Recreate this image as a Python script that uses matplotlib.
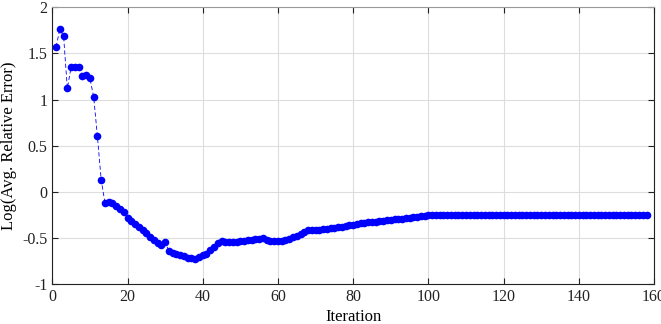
import numpy as np
import matplotlib.pyplot as plt

plt.rcParams['font.family'] = ['Liberation Serif', 'DejaVu Serif']

# Log of avg. relative error per iteration
err_early = [1.57, 1.76, 1.69, 1.12, 1.35, 1.35, 1.35, 1.26, 1.27, 1.23,
             1.03, 0.60, 0.13, -0.12, -0.11, -0.12, -0.15, -0.19, -0.22, -0.28,
             -0.32, -0.35, -0.38, -0.42, -0.45, -0.49, -0.52, -0.56, -0.58, -0.55,
             -0.64, -0.66, -0.67, -0.69, -0.70, -0.72, -0.72, -0.73, -0.71, -0.69,
             -0.67, -0.63, -0.60, -0.56, -0.53, -0.54, -0.54, -0.54, -0.54, -0.53]
err_mid = [-0.53, -0.52, -0.52, -0.51, -0.51, -0.50, -0.52, -0.53, -0.53, -0.53,
           -0.53, -0.52, -0.51, -0.49, -0.48, -0.46, -0.44, -0.42, -0.41, -0.41,
           -0.41, -0.40, -0.40, -0.39, -0.39, -0.38, -0.38, -0.37, -0.36, -0.36,
           -0.35, -0.34, -0.34, -0.33, -0.33, -0.33, -0.32, -0.32, -0.31, -0.31,
           -0.30, -0.30, -0.29, -0.28, -0.28, -0.27, -0.27, -0.26, -0.26, -0.255]
err_late = [-0.253, -0.252, -0.252, -0.251, -0.251, -0.251, -0.250, -0.250, -0.250, -0.250,
            -0.250, -0.250, -0.250, -0.250, -0.250, -0.250, -0.250, -0.250, -0.250, -0.250,
            -0.250, -0.250, -0.250, -0.250, -0.250, -0.250, -0.250, -0.250, -0.250, -0.250,
            -0.250, -0.250, -0.250, -0.250, -0.250, -0.250, -0.250, -0.250, -0.250, -0.250,
            -0.250, -0.250, -0.250, -0.250, -0.250, -0.250, -0.250, -0.250, -0.250, -0.250,
            -0.250, -0.250, -0.250, -0.250, -0.250, -0.250, -0.250, -0.250]

err = np.array(err_early + err_mid + err_late)
iters = np.arange(1, len(err) + 1)

fig = plt.figure(figsize=(6.61, 3.24), dpi=100)
ax = fig.add_axes([0.0791, 0.1235, 0.9104, 0.854])

ax.plot(iters, err, '--', color='#0000FF', linewidth=0.6, dashes=(5, 3))
ax.plot(iters, err, 'o', color='#0000FF', markersize=5.5, markeredgewidth=0)

ax.set_xlim(0, 160)
ax.set_ylim(-1, 2)
ax.set_xticks(np.arange(0, 161, 20))
ax.set_yticks([-1, -0.5, 0, 0.5, 1, 1.5, 2])
ax.set_yticklabels(['-1', '-0.5', '0', '0.5', '1', '1.5', '2'])
ax.grid(True, color='#dddddd', linewidth=0.8)
ax.set_axisbelow(True)
ax.tick_params(direction='in', top=True, right=True, labelsize=11.5, length=4,
               width=0.8, colors='#222222')
for side in ['left', 'bottom', 'right']:
    ax.spines[side].set_color('#222222')
ax.spines['top'].set_color('#999999')

ax.set_xlabel('Iteration', fontsize=12, labelpad=3)
ax.set_ylabel('Log(Avg. Relative Error)', fontsize=12, labelpad=4)

fig.savefig('out.png', dpi=100)
